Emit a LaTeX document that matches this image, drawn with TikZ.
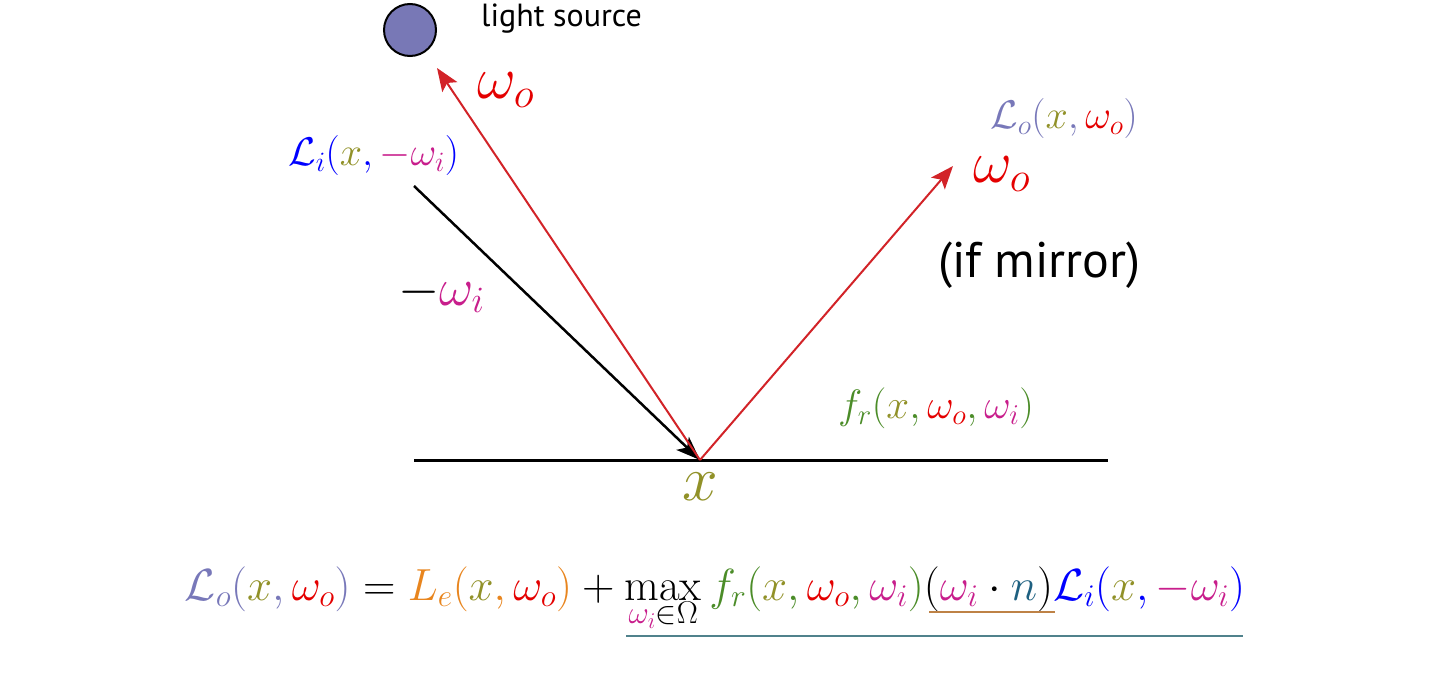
\RequirePackage{fix-cm}
\documentclass[tikz,border=0pt]{standalone}
\usepackage{fontspec}
\setsansfont{PT Sans}
\usetikzlibrary{arrows.meta}

\definecolor{srcfill}{RGB}{120,120,182}
\definecolor{raycol}{RGB}{210,35,40}
\definecolor{wocol}{RGB}{228,0,0}
\definecolor{xcol}{RGB}{145,145,40}
\definecolor{wicol}{RGB}{200,30,140}
\definecolor{licol}{RGB}{0,0,255}
\definecolor{locol}{RGB}{120,120,185}
\definecolor{lecol}{RGB}{232,133,30}
\definecolor{frcol}{RGB}{75,140,40}
\definecolor{ncol}{RGB}{30,96,128}
\definecolor{ulcol}{RGB}{190,130,70}
\definecolor{tlcol}{RGB}{80,130,140}

\newcommand{\xv}{{\color{xcol}x}}
\newcommand{\wov}{{\color{wocol}\omega_o}}
\newcommand{\wiv}{{\color{wicol}\omega_i}}

\tikzset{
  lbl/.style={inner sep=0pt, anchor=base west},
  msize/.style={font=\fontsize{#1}{#1}\selectfont},
  ray/.style={raycol, line width=2pt, -{Stealth[length=23pt, width=18pt, inset=5pt]}},
}

\begin{document}
\begin{tikzpicture}[x=1pt, y=-1pt]
  \useasboundingbox (0,0) rectangle (1432,688);
  % Light source
  \node[circle, draw, line width=2pt, fill=srcfill, minimum size=52pt, inner sep=0pt] (src) at (410,30) {};
  \node[lbl, font=\sffamily\fontsize{32}{34}\selectfont] (srclbl) at (481,27) {light source};
  % Points
  \coordinate (hit) at (700,460);
  \coordinate (backtip) at (437,68);
  \coordinate (mirtip) at (953,166);
  \coordinate (incstart) at (414,186);
  \coordinate (gndL) at (414,460);
  \coordinate (gndR) at (1108,460);
  % Surface
  \draw[line width=3pt] (gndL) -- (hit) -- (gndR);
  % Rays
  \draw[line width=2.5pt, -{Stealth[length=24pt, width=18pt, inset=6pt]}] (incstart) -- (hit);
  \draw[ray] (hit) -- (backtip);
  \draw[ray] (hit) -- (mirtip);
  % Labels
  \node[lbl, msize=60] (wotop) at (477,98) {$\wov$};
  \node[lbl, msize=40] (lilbl) at (288,165) {$\color{licol}\mathcal{L}_i(\xv, {\color{wicol}-\omega_i})$};
  \node[lbl, msize=53] (wilbl) at (398,305) {$-\wiv$};
  \node[lbl, msize=40] (lolbl) at (990,128) {$\color{locol}\mathcal{L}_o(\xv, \wov)$};
  \node[lbl, msize=60] (worgt) at (973,182) {$\wov$};
  \node[lbl, font=\sffamily\fontsize{50}{54}\selectfont] (mirlbl) at (938,277) {(if mirror)};
  \node[lbl, msize=41] (frlbl) at (838,418) {$\color{frcol}f_r(\xv, \wov, \wiv)$};
  \node[inner sep=0pt, anchor=base, msize=64] (xlbl) at (700,500) {$\xv$};
  % Rendering equation
  \node[inner sep=0pt, anchor=base, msize=45] (eqn) at (715,600)
    {$\displaystyle {\color{locol}\mathcal{L}_o(\xv, \wov)} = {\color{lecol}L_e(\xv, \wov)} + \max_{\wiv\in\Omega} {\color{frcol}f_r(\xv, \wov, \wiv)}(\wiv\cdot{\color{ncol}n}){\color{licol}\mathcal{L}_i(\xv, {\color{wicol}-\omega_i})}$};
  \draw[ulcol, line width=2pt] (929,612) -- (1055,612);
  \draw[tlcol, line width=2pt] (626,636) -- (1243,636);
\end{tikzpicture}
\end{document}
